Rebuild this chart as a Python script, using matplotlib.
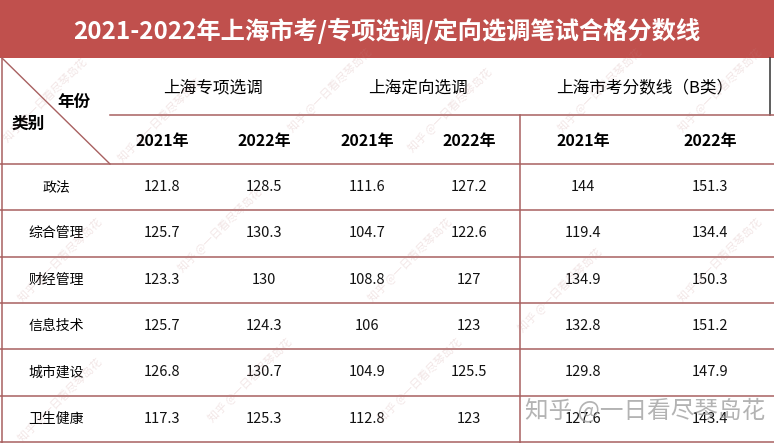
import matplotlib.pyplot as plt
from matplotlib.lines import Line2D

plt.rcParams['font.family'] = ['Noto Sans CJK SC', 'DejaVu Sans']

title = '2021-2022年上海市考/专项选调/定向选调笔试合格分数线'
groups = ['上海专项选调', '上海定向选调', '上海市考分数线（B类）']
years = ['2021年', '2022年']
categories = ['政法', '综合管理', '财经管理', '信息技术', '城市建设', '卫生健康']

zxxd_2021 = ['121.8', '125.7', '123.3', '125.7', '126.8', '117.3']
zxxd_2022 = ['128.5', '130.3', '130', '124.3', '130.7', '125.3']
dxxd_2021 = ['111.6', '104.7', '108.8', '106', '104.9', '112.8']
dxxd_2022 = ['127.2', '122.6', '127', '123', '125.5', '123']
sk_2021 = ['144', '119.4', '134.9', '132.8', '129.8', '127.6']
sk_2022 = ['151.3', '134.4', '150.3', '151.2', '147.9', '143.4']

columns = [zxxd_2021, zxxd_2022, dxxd_2021, dxxd_2022, sk_2021, sk_2022]

W, H = 774, 443
red = '#C0504D'
line_c = '#A86060'

fig = plt.figure(figsize=(W / 100, H / 100), dpi=100)
ax = fig.add_axes([0, 0, 1, 1])
ax.set_xlim(0, W)
ax.set_ylim(H, 0)
ax.axis('off')

# title band
ax.add_patch(plt.Rectangle((0, 0), W, 58, color=red, lw=0))
ax.text(W / 2, 31, title, color='white', fontsize=17.5, fontweight='bold',
        ha='center', va='center')

col_x = [162, 264, 367, 469, 583, 710]
group_x = [213, 418, 645]
row_top = 164
row_h = 46.3

def hline(y, x0=0, x1=W, c=line_c):
    ax.add_line(Line2D([x0, x1], [y, y], color=c, lw=1.1))

def vline(x, y0, y1, c=line_c):
    ax.add_line(Line2D([x, x], [y0, y1], color=c, lw=1.1))

# borders
vline(1.5, 58, H)
vline(770, 58, 115, c='#333333')
hline(115, 110, W)
vline(520, 115, H)
for i in range(len(categories) + 1):
    hline(row_top + i * row_h)
ax.add_line(Line2D([2, 110], [58, 164], color=line_c, lw=1.0))

# header
ax.text(74, 102, '年份', fontsize=12, fontweight='bold', ha='center', va='center')
ax.text(28, 124, '类别', fontsize=12, fontweight='bold', ha='center', va='center')
for gx, g in zip(group_x, groups):
    ax.text(gx, 88, g, fontsize=12, fontweight='medium', ha='center', va='center')
for i, cx in enumerate(col_x):
    ax.text(cx, 141, years[i % 2], fontsize=11.5, fontweight='bold',
            ha='center', va='center')

# data rows
for r, cat in enumerate(categories):
    cy = row_top + (r + 0.5) * row_h
    ax.text(56, cy, cat, fontsize=10, ha='center', va='center')
    for cx, col in zip(col_x, columns):
        ax.text(cx, cy, col[r], fontsize=10.5, ha='center', va='center',
                color='#111111')

# watermarks
for wx, wy in [(45, 100), (160, 120), (330, 90), (450, 110), (600, 90), (720, 90),
               (60, 260), (220, 230), (410, 260), (560, 290), (720, 260),
               (60, 400), (250, 380), (420, 380)]:
    ax.text(wx, wy, '知乎 @一日看尽琴岛花', fontsize=8, color='#C08080',
            alpha=0.2, rotation=45, ha='center', va='center')
ax.text(645, 410, '知乎 @一日看尽琴岛花', fontsize=17, color='#9A9A9A',
        alpha=0.75, ha='center', va='center')

fig.savefig('out.png', dpi=100)
